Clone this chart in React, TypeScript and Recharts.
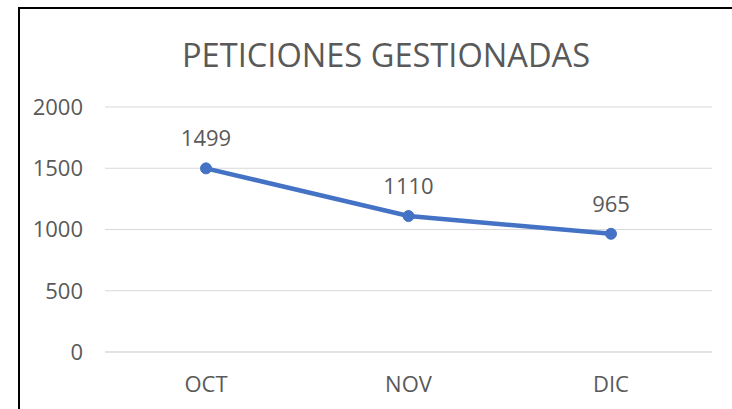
import React from "react";
import { LineChart, Line, XAxis, YAxis, CartesianGrid, LabelList } from "recharts";

const months = ["OCT", "NOV", "DIC"];
const requests = [1499, 1110, 965];
const yTicks = [0, 500, 1000, 1500, 2000];
const title = "PETICIONES GESTIONADAS";

const data = months.map((m, i) => ({ month: m, value: requests[i] }));

const FONT = "'Open Sans', sans-serif";
const TEXT = "#595959";

export default function App() {
  return (
    <div style={{ position: "absolute", left: 0, top: 0, width: 732, height: 409, overflow: "hidden", background: "#fff" }}>
      <div
        style={{
          position: "absolute",
          left: 18,
          top: 7,
          width: 900,
          height: 600,
          borderLeft: "2px solid #000",
          borderTop: "2px solid #000",
        }}
      />
      <div style={{ position: "absolute", left: 0, top: 0 }}>
        <LineChart
          width={732}
          height={409}
          data={data}
          margin={{ top: 107, right: 20, bottom: 27, left: 25 }}
        >
          <CartesianGrid vertical={false} stroke="#D9D9D9" strokeWidth={1} />
          <XAxis
            dataKey="month"
            height={30}
            axisLine={{ stroke: "#D9D9D9" }}
            tickLine={false}
            padding={{ left: 101, right: 101 }}
            tickMargin={18}
            tick={{ fill: TEXT, fontSize: 22, fontFamily: FONT }}
          />
          <YAxis
            width={80}
            domain={[0, 2000]}
            ticks={yTicks}
            axisLine={false}
            tickLine={false}
            tickMargin={16}
            tick={{ fill: TEXT, fontSize: 22, fontFamily: FONT }}
          />
          <Line
            type="linear"
            dataKey="value"
            stroke="#4472C4"
            strokeWidth={4.5}
            dot={{ r: 5.5, fill: "#4472C4", stroke: "#4472C4", strokeWidth: 1 }}
            isAnimationActive={false}
          >
            <LabelList
              dataKey="value"
              position="top"
              offset={22}
              fill={TEXT}
              fontSize={22}
              fontFamily={FONT}
            />
          </Line>
        </LineChart>
      </div>
      <svg style={{ position: "absolute", left: 0, top: 0 }} width={732} height={409}>
        <text
          x={386}
          y={67}
          textAnchor="middle"
          fill={TEXT}
          fontSize={32}
          fontFamily={FONT}
          textLength={408}
          lengthAdjust="spacingAndGlyphs"
        >
          {title}
        </text>
      </svg>
    </div>
  );
}
